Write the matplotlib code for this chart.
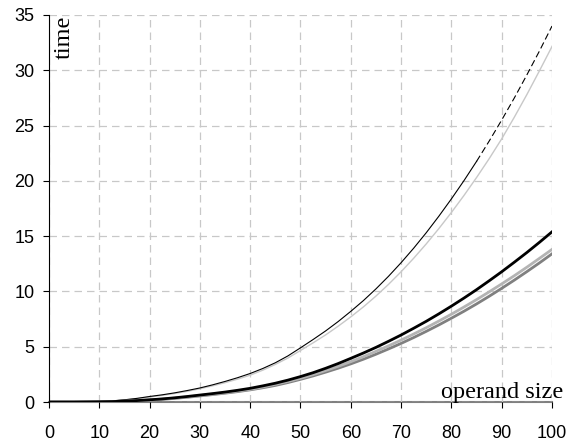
import numpy as np
import matplotlib.pyplot as plt

# operand size, one reading every 2.5
x = np.linspace(0, 100, 41)

# timings
t_thin_black = [0, 0, 0.01, 0.02, 0.05, 0.1, 0.2, 0.33, 0.5, 0.65, 0.83, 1.04, 1.27, 1.55, 1.86, 2.2,
                2.58, 3.03, 3.55, 4.17, 4.9, 5.65, 6.43, 7.28, 8.2, 9.17, 10.23, 11.37, 12.6, 13.91, 15.31,
                16.8, 18.37, 20.02, 21.76, 23.59, 25.5, 27.49, 29.58, 31.74, 34.0]
t_thin_gray = [0, 0, 0.01, 0.02, 0.05, 0.09, 0.18, 0.3, 0.45, 0.6, 0.77, 0.97, 1.2, 1.46, 1.75, 2.07,
               2.43, 2.88, 3.4, 3.98, 4.66, 5.35, 6.07, 6.86, 7.7, 8.6, 9.58, 10.64, 11.78, 13.0, 14.3,
               15.68, 17.14, 18.68, 20.3, 22.0, 23.8, 25.75, 27.8, 29.95, 32.15]
t_thick_black = [0, 0, 0, 0.01, 0.02, 0.04, 0.08, 0.13, 0.2, 0.28, 0.38, 0.5, 0.63, 0.76, 0.9, 1.06,
                 1.24, 1.46, 1.7, 1.98, 2.3, 2.65, 3.05, 3.48, 3.95, 4.43, 4.94, 5.49, 6.06, 6.67, 7.3,
                 7.97, 8.67, 9.4, 10.16, 10.96, 11.78, 12.64, 13.52, 14.44, 15.39]
t_thick_light = [0, 0, 0, 0.01, 0.02, 0.04, 0.07, 0.12, 0.18, 0.26, 0.35, 0.46, 0.58, 0.71, 0.85, 1.0,
                 1.15, 1.36, 1.6, 1.86, 2.15, 2.48, 2.85, 3.23, 3.65, 4.1, 4.58, 5.08, 5.6, 6.15, 6.72,
                 7.32, 7.94, 8.59, 9.26, 9.96, 10.68, 11.42, 12.19, 12.99, 13.8]
t_thick_gray = [0, 0, 0, 0.01, 0.02, 0.04, 0.07, 0.11, 0.17, 0.24, 0.33, 0.43, 0.55, 0.67, 0.8, 0.94,
                1.1, 1.29, 1.5, 1.76, 2.05, 2.36, 2.7, 3.06, 3.45, 3.87, 4.32, 4.8, 5.3, 5.83, 6.39,
                6.97, 7.58, 8.21, 8.87, 9.56, 10.28, 11.02, 11.79, 12.58, 13.4]

fig = plt.figure(figsize=(5.75, 4.41), dpi=100)
ax = fig.add_axes([0.0852, 0.0884, 0.8748, 0.8776])

ax.plot(x, t_thin_gray, color='#c8c8c8', lw=1.0)
# thin black line: solid, then dashed at the upper end
ax.plot(x[:35], t_thin_black[:35], color='black', lw=0.8)
ax.plot(x[34:], t_thin_black[34:], color='black', lw=0.8, ls=(0, (6, 3)))
ax.plot(x, t_thick_gray, color='#808080', lw=2.0)
ax.plot(x, t_thick_light, color='#b4b4b4', lw=2.0)
ax.plot(x, t_thick_black, color='black', lw=2.0)

ax.set_xlim(0, 100)
ax.set_ylim(0, 35)
ax.set_xticks(np.arange(0, 101, 10))
ax.set_yticks(np.arange(0, 36, 5))
ax.grid(True, color='#c8c8c8', ls=(0, (6, 4)), lw=0.9)

ax.spines['top'].set_visible(False)
ax.spines['right'].set_visible(False)
ax.spines['left'].set_color('black')
ax.spines['bottom'].set_color('#808080')
ax.spines['bottom'].set_linewidth(1.5)
ax.spines['bottom'].set_zorder(0.5)

ax.tick_params(axis='x', direction='out', length=4.5, width=0.8, pad=12, labelsize=13)
ax.tick_params(axis='y', direction='out', length=4.5, width=0.8, pad=6, labelsize=13)
for lbl in ax.get_xticklabels() + ax.get_yticklabels():
    lbl.set_family('Liberation Sans')

ax.text(3.0, 34.9, 'time', rotation=90, ha='center', va='top',
        family='Liberation Serif', fontsize=17.5)
ax.text(102.2, 0.35, 'operand size', ha='right', va='baseline',
        family='Liberation Serif', fontsize=17.5, clip_on=False)

fig.savefig('out.png', dpi=100)
